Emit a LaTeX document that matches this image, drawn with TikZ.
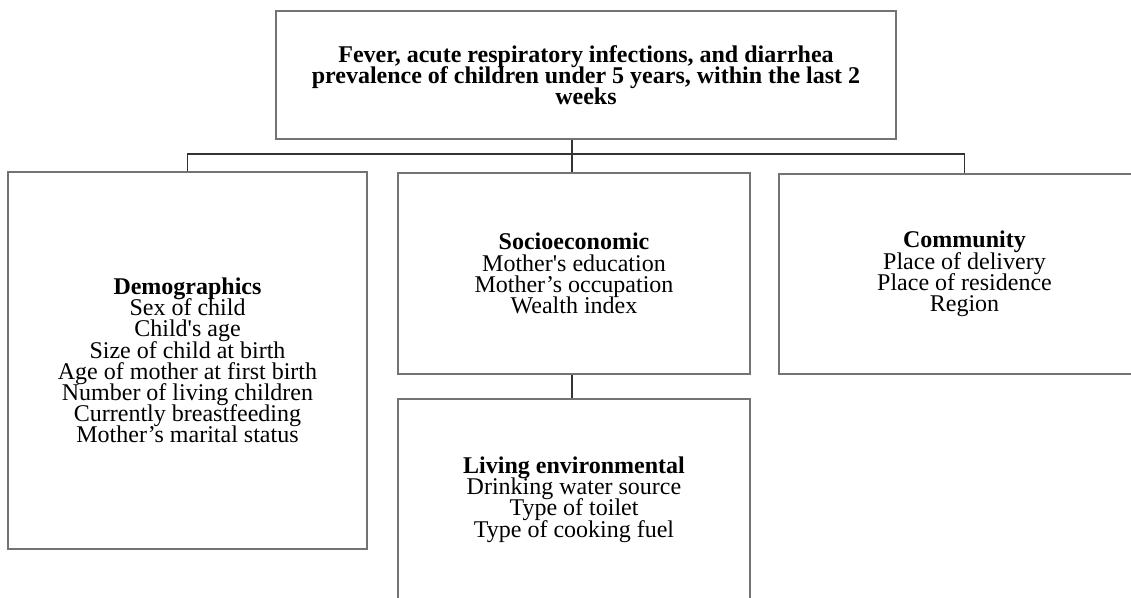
\documentclass[tikz,border=0pt]{standalone}
\usepackage{fontspec}
\setmainfont{Liberation Serif}
\usepackage{tikz}
\usetikzlibrary{positioning, calc}

\tikzset{
    box/.style={draw=black!55, line width=0.6pt, align=center, inner sep=2pt,
        font=\fontsize{12}{10.6}\selectfont,
        execute at begin node={\lineskiplimit=-20pt\lineskip=0pt}},
    link/.style={draw=black!80, line width=0.7pt}
}

\begin{document}
\begin{tikzpicture}[x=0.5pt, y=-0.5pt]
    \useasboundingbox (0,0) rectangle (1131,598);
    \clip (0,0) rectangle (1131,598);
    % outcome box
    \node[box, minimum width=310pt, minimum height=64pt] (outcome) at (586,75)
        {\textbf{Fever, acute respiratory infections, and diarrhea}\\
         \textbf{prevalence of children under 5 years, within the last 2}\\
         \textbf{weeks}};
    % factor boxes
    \node[box, minimum width=179.5pt, minimum height=188.5pt] (demo) at (187.5,360.5)
        {\textbf{Demographics}\\Sex of child\\Child\textquotesingle s age\\Size of child at birth\\
         Age of mother at first birth\\Number of living children\\Currently breastfeeding\\
         Mother’s marital status};
    \node[box, minimum width=176pt, minimum height=100.5pt] (socio) at (574,273.5)
        {\textbf{Socioeconomic}\\Mother\textquotesingle s education\\Mother’s occupation\\Wealth index};
    \node[box, minimum width=185.5pt, minimum height=100pt] (comm) at (964.5,274)
        {\textbf{Community}\\Place of delivery\\Place of residence\\Region};
    \node[box, minimum width=176pt, minimum height=100.5pt] (living) at (574,499.5)
        {\textbf{Living environmental}\\Drinking water source\\Type of toilet\\Type of cooking fuel};
    % connectors
    \coordinate (bus) at (572,154);
    \draw[link] (outcome.south -| bus) -- (bus) -- (bus |- socio.north);
    \draw[link] (demo.north) |- (bus) -| (comm.north);
    \draw[link] (socio.south -| bus) -- (living.north -| bus);
\end{tikzpicture}
\end{document}
